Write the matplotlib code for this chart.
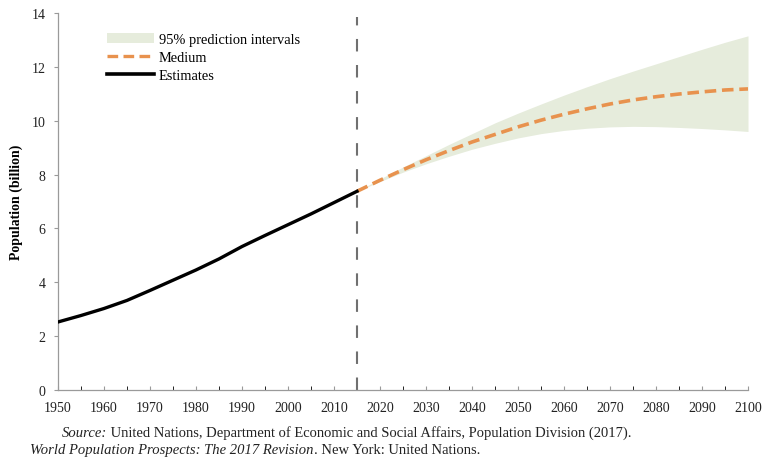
import matplotlib
matplotlib.use("Agg")
import matplotlib.pyplot as plt
from matplotlib.patches import Patch
from matplotlib.lines import Line2D

# World population estimates (billion)
est_years = [1950, 1955, 1960, 1965, 1970, 1975, 1980, 1985, 1990, 1995,
             2000, 2005, 2010, 2015]
est_pop = [2.53, 2.77, 3.03, 3.33, 3.70, 4.08, 4.46, 4.87, 5.33, 5.74,
           6.14, 6.54, 6.96, 7.38]

# Medium-variant projection and 95% prediction interval (billion)
proj_years = [2015, 2020, 2025, 2030, 2035, 2040, 2045, 2050, 2055, 2060,
              2065, 2070, 2075, 2080, 2085, 2090, 2095, 2100]
medium = [7.38, 7.79, 8.18, 8.55, 8.89, 9.21, 9.49, 9.77, 10.02, 10.24,
          10.44, 10.62, 10.77, 10.89, 10.99, 11.07, 11.14, 11.18]
pi_low = [7.38, 7.74, 8.09, 8.40, 8.68, 8.94, 9.16, 9.36, 9.52, 9.64,
          9.72, 9.77, 9.79, 9.78, 9.75, 9.71, 9.66, 9.60]
pi_high = [7.38, 7.84, 8.28, 8.70, 9.12, 9.52, 9.92, 10.28, 10.62, 10.95,
           11.26, 11.56, 11.84, 12.11, 12.38, 12.65, 12.91, 13.15]

x_ticks = list(range(1950, 2101, 10))
y_ticks = [0, 2, 4, 6, 8, 10, 12, 14]

plt.rcParams["font.family"] = ["Liberation Serif", "DejaVu Serif"]

fig = plt.figure(figsize=(7.65, 4.64), dpi=100)
ax = fig.add_axes([0.0758, 0.157, 0.902, 0.813])

band_color = "#e6ecdc"
medium_color = "#e8924e"

ax.fill_between(proj_years, pi_low, pi_high, color=band_color, lw=0, zorder=1)
ax.plot(proj_years, medium, color=medium_color, lw=2.6, ls=(0, (3.2, 1.6)), zorder=3)
ax.plot(est_years, est_pop, color="black", lw=2.4, zorder=3)
ax.axvline(2015, ymax=0.99, color="#707070", lw=1.5, ls=(0, (6, 6.5)), zorder=2)

ax.set_xlim(1950, 2100)
ax.set_ylim(0, 14)
ax.set_xticks(x_ticks)
ax.set_xticks(list(range(1955, 2100, 10)), minor=True)
ax.set_yticks(y_ticks)
ax.tick_params(axis="both", labelsize=10, colors="#222222", length=3,
               width=0.8, color="#9a9a9a", direction="in")
ax.tick_params(axis="x", which="both", direction="in", length=3, pad=8)
ax.tick_params(axis="y", direction="out", length=3, pad=6)
for s in ["top", "right"]:
    ax.spines[s].set_visible(False)
for s in ["left", "bottom"]:
    ax.spines[s].set_color("#9a9a9a")
    ax.spines[s].set_linewidth(0.9)

ax.set_ylabel("Population (billion)", fontsize=10, fontweight="bold", labelpad=6)

handles = [Patch(facecolor=band_color, edgecolor="none"),
           Line2D([], [], color=medium_color, lw=2.4, ls=(0, (3.2, 1.6))),
           Line2D([], [], color="black", lw=2.6)]
labels = ["95% prediction intervals", "Medium", "Estimates"]
ax.legend(handles, labels, loc="upper left", bbox_to_anchor=(0.062, 0.962),
          frameon=False, fontsize=10.4, handlelength=3.3, handletextpad=0.3,
          labelspacing=0.35, borderaxespad=0)

# Source note with mixed italic / roman runs
fig.canvas.draw()
renderer = fig.canvas.get_renderer()


def run_text(x_px, y_px, parts):
    x = x_px
    for txt, style in parts:
        t = fig.text(x / 765, 1 - y_px / 464, txt, fontsize=10.5, style=style,
                     color="#222222", va="baseline", ha="left")
        bb = t.get_window_extent(renderer)
        x += bb.width


run_text(62, 437, [("Source:", "italic"),
                   (" United Nations, Department of Economic and Social Affairs, Population Division (2017).", "normal")])
run_text(30, 454, [("World Population Prospects: The 2017 Revision", "italic"),
                   (". New York: United Nations.", "normal")])

fig.savefig("out.png", dpi=100)
